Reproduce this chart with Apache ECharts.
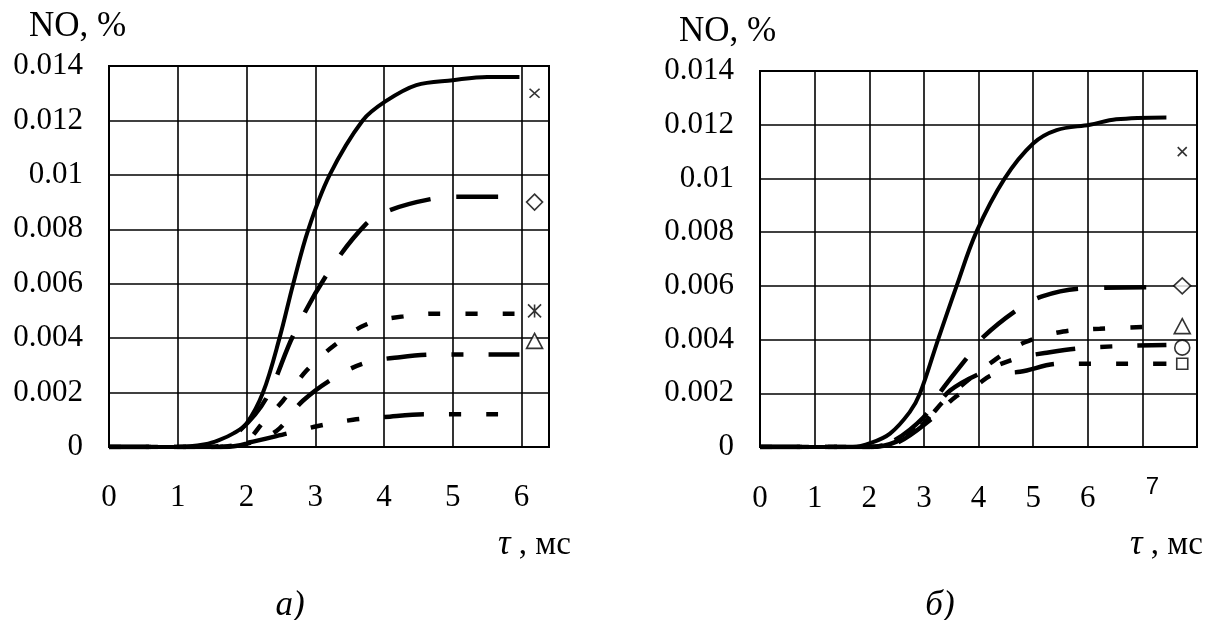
<!DOCTYPE html>
<html><head><meta charset="utf-8">
<script src="https://cdn.jsdelivr.net/npm/echarts@6/dist/echarts.min.js"></script>
<style>html,body{margin:0;padding:0;background:#fff}#c{width:1221px;height:620px}</style>
</head><body><div id="c"></div>
<script>
// ---- tick labels ----
const yTickLabels = ['0', '0.002', '0.004', '0.006', '0.008', '0.01', '0.012', '0.014'];
const xTickLabelsA = ['0', '1', '2', '3', '4', '5', '6'];
const xTickLabelsB = ['0', '1', '2', '3', '4', '5', '6', '7'];

// ---- panel а) : [tau, NO%] ----
const a_solid = [[0,0],[1.0,0],[1.4,0.0001],[1.6,0.00025],[1.81,0.0005],[2.0,0.00086],[2.24,0.002],[2.48,0.004],[2.68,0.006],[2.9,0.008],[3.21,0.010],[3.69,0.012],[4.02,0.0127],[4.47,0.0133],[5.0,0.01348],[5.5,0.0136],[5.97,0.0136]];
const a_longdash = [[0,0],[1.5,0],[1.9,0.0006],[2.29,0.0018],[2.68,0.0041],[3.16,0.0063],[3.74,0.0082],[4.08,0.0087],[4.66,0.0091],[5.1,0.0092],[5.66,0.0092]];
const a_shortdash = [[0,0],[1.6,0],[2.0,0.00024],[2.24,0.0009],[2.53,0.0017],[2.87,0.0028],[3.26,0.0037],[3.74,0.0045],[4.28,0.0048],[4.76,0.0049],[5.92,0.0049]];
const a_dashdot = [[0,0],[1.6,0],[2.0,0.00012],[2.44,0.0006],[2.82,0.0017],[3.31,0.0026],[3.74,0.0031],[4.23,0.0033],[4.81,0.0034],[5.97,0.0034]];
const a_dashdotdot = [[0,0],[1.56,0],[2.0,0.00015],[2.6,0.0005],[3.04,0.00077],[3.55,0.001],[4.01,0.0011],[4.59,0.0012],[5.66,0.0012]];
const a_markCross = [[6.19, 0.013]];
const a_markDiamond = [[6.19, 0.009]];
const a_markStar = [[6.19, 0.005]];
const a_markTriangle = [[6.19, 0.0039]];

// ---- panel б) ----
const b_solid = [[0,0],[1.7,0],[2.03,0.00015],[2.38,0.0005],[2.74,0.0013],[2.93,0.002],[3.26,0.004],[3.6,0.006],[3.96,0.008],[4.48,0.010],[5.0,0.0113],[5.43,0.0118],[6.04,0.0120],[6.52,0.0122],[7.44,0.01227]];
const b_longdash = [[0,0],[2.0,0],[2.38,0.00015],[2.99,0.0011],[3.32,0.0021],[3.78,0.0033],[4.09,0.0041],[4.7,0.0051],[5.15,0.0056],[5.88,0.0059],[7.12,0.00595]];
const b_shortdash = [[0,0],[2.0,0],[2.38,0.00015],[2.99,0.0009],[3.41,0.0018],[4.27,0.0032],[4.85,0.0039],[5.55,0.0043],[6.22,0.0044],[7.44,0.0045]];
const b_dashdot = [[0,0],[2.0,0],[2.5,0.0002],[3.0,0.0009],[3.48,0.0021],[4.2,0.0029],[4.7,0.0033],[5.21,0.0035],[5.98,0.0037],[7.44,0.0038]];
const b_dashdotdot = [[0,0],[2.0,0],[2.5,0.00015],[3.11,0.001],[3.6,0.0019],[3.96,0.0023],[4.27,0.0027],[4.76,0.0028],[5.49,0.0031],[7.44,0.0031]];
const b_markCross = [[7.73, 0.011]];
const b_markDiamond = [[7.73, 0.006]];
const b_markTriangle = [[7.73, 0.0045]];
const b_markCircle = [[7.73, 0.0037]];
const b_markSquare = [[7.73, 0.0031]];

const SERIF = 'Liberation Serif';
const DASH = {
  solid: 'solid',
  longdash: [42, 26],
  shortdash: [12, 25],
  dashdot: [40, 25, 12, 25],
  dashdotdot: [40, 25, 12, 25, 12, 25]
};
const CROSS = 'path://M0,0L10,10M10,0L0,10';
const STAR = 'path://M0,0L10,10M10,0L0,10M5,0L5,10';

function line(data, kind, idx) {
  return {
    type: 'line', data: data, xAxisIndex: idx, yAxisIndex: idx,
    smooth: 0.35, showSymbol: false, symbol: 'none', silent: true,
    lineStyle: { color: '#000', width: kind === 'solid' ? 4 : 4.5, type: DASH[kind], cap: 'butt' },
    z: 3
  };
}
function mark(data, symbol, size, idx) {
  const open = symbol === CROSS || symbol === STAR;
  return {
    type: 'scatter', data: data, xAxisIndex: idx, yAxisIndex: idx, silent: true,
    symbol: symbol, symbolSize: size,
    itemStyle: { color: open ? 'none' : '#fff', borderColor: '#000', borderWidth: 1.6 },
    z: 4
  };
}

function yAxis(idx) {
  return {
    type: 'value', gridIndex: idx, min: 0, max: 0.014, interval: 0.002,
    axisLine: { show: true, lineStyle: { color: '#000', width: 2 } },
    axisTick: { show: false },
    splitLine: { show: true, lineStyle: { color: '#000', width: 1.6 } },
    axisLabel: {
      margin: 26, color: '#000', fontFamily: SERIF, fontSize: 31,
      formatter: v => yTickLabels[Math.round(v / 0.002)] ?? ''
    }
  };
}

const chart = echarts.init(document.getElementById('c'), null, { renderer: 'canvas' });
chart.setOption({
  animation: false,
  backgroundColor: '#fff',
  grid: [
    { left: 109, top: 66, right: 672, bottom: 173, show: true, borderColor: '#000', borderWidth: 2, containLabel: false },
    { left: 760, top: 71, right: 24, bottom: 173, show: true, borderColor: '#000', borderWidth: 2, containLabel: false }
  ],
  xAxis: [
    {
      type: 'value', gridIndex: 0, min: 0, max: 6.4, interval: 1,
      axisLine: { show: true, lineStyle: { color: '#000', width: 2 } },
      axisTick: { show: false },
      splitLine: { show: true, lineStyle: { color: '#000', width: 1.6 } },
      axisLabel: {
        margin: 35, color: '#000', fontFamily: SERIF, fontSize: 31,
        showMaxLabel: false,
        formatter: v => (Number.isInteger(v) && xTickLabelsA[v] !== undefined) ? xTickLabelsA[v] : ''
      }
    },
    {
      type: 'value', gridIndex: 1, min: 0, max: 8, interval: 1,
      axisLine: { show: true, lineStyle: { color: '#000', width: 2 } },
      axisTick: { show: false },
      splitLine: { show: true, lineStyle: { color: '#000', width: 1.6 } },
      axisLabel: {
        margin: 28, color: '#000', fontFamily: SERIF, fontSize: 31,
        formatter: v => {
          const s = xTickLabelsB[v];
          if (!Number.isInteger(v) || s === undefined) return '';
          return v === 7 ? '{s|' + s + '}' : '{n|' + s + '}';
        },
        rich: {
          n: { fontFamily: SERIF, fontSize: 31, padding: [8, 0, 0, 0], color: '#000' },
          s: { fontFamily: 'Liberation Sans', fontSize: 24, padding: [0, 0, 0, 20], color: '#000' }
        }
      }
    }
  ],
  yAxis: [yAxis(0), yAxis(1)],
  series: [
    line(a_solid, 'solid', 0),
    line(a_longdash, 'longdash', 0),
    line(a_shortdash, 'shortdash', 0),
    line(a_dashdot, 'dashdot', 0),
    line(a_dashdotdot, 'dashdotdot', 0),
    mark(a_markCross, CROSS, [10, 9], 0),
    mark(a_markDiamond, 'diamond', [16, 16], 0),
    mark(a_markStar, STAR, [13, 13], 0),
    mark(a_markTriangle, 'triangle', [16, 15], 0),

    line(b_solid, 'solid', 1),
    line(b_longdash, 'longdash', 1),
    line(b_shortdash, 'shortdash', 1),
    line(b_dashdot, 'dashdot', 1),
    line(b_dashdotdot, 'dashdotdot', 1),
    mark(b_markCross, CROSS, [9, 9], 1),
    mark(b_markDiamond, 'diamond', [17, 16], 1),
    mark(b_markTriangle, 'triangle', [16, 15], 1),
    mark(b_markCircle, 'circle', [15, 15], 1),
    mark(b_markSquare, 'rect', [11, 11], 1)
  ],
  graphic: [
    { type: 'text', x: 29, y: 27, style: { text: 'NO, %', fontFamily: SERIF, fontSize: 35, fill: '#000', verticalAlign: 'middle' } },
    { type: 'text', x: 679, y: 32, style: { text: 'NO, %', fontFamily: SERIF, fontSize: 35, fill: '#000', verticalAlign: 'middle' } },
    { type: 'text', x: 498, y: 545, style: { text: '{i|τ}{n| , мс}', verticalAlign: 'middle', rich: {
      i: { fontFamily: SERIF, fontStyle: 'italic', fontSize: 35, fill: '#000' },
      n: { fontFamily: SERIF, fontSize: 33, fill: '#000' } } } },
    { type: 'text', x: 1130, y: 545, style: { text: '{i|τ}{n| , мс}', verticalAlign: 'middle', rich: {
      i: { fontFamily: SERIF, fontStyle: 'italic', fontSize: 35, fill: '#000' },
      n: { fontFamily: SERIF, fontSize: 33, fill: '#000' } } } },
    { type: 'text', x: 290, y: 606, style: { text: 'а)', fontFamily: SERIF, fontStyle: 'italic', fontSize: 35, fill: '#000', align: 'center', verticalAlign: 'middle' } },
    { type: 'text', x: 940, y: 606, style: { text: 'б)', fontFamily: SERIF, fontStyle: 'italic', fontSize: 35, fill: '#000', align: 'center', verticalAlign: 'middle' } }
  ]
});
</script>
</body></html>
